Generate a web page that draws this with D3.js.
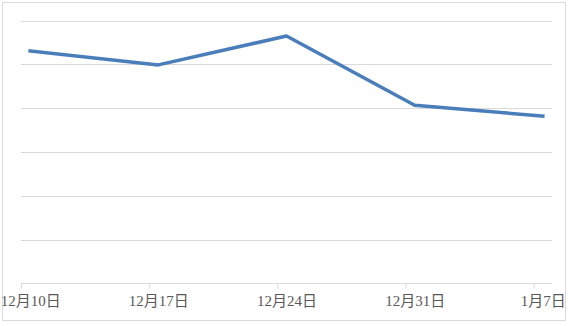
<!DOCTYPE html>
<html>
<head>
<meta charset="utf-8">
<script src="https://cdn.jsdelivr.net/npm/d3@7"></script>
<style>
  body { margin: 0; background: #fff; }
  svg { display: block; }
  .grid line { stroke: #d9d9d9; stroke-width: 1; }
  .x.axis path, .x.axis line { stroke: #d9d9d9; }
  .x.axis text { fill: #595959; font-family: "Liberation Serif", "Noto Sans CJK SC", serif; font-size: 15px; }
</style>
</head>
<body>
<div id="chart"></div>
<script>
// weekly dates (axis treats each as one day wide)
const dates = ["2017-12-10", "2017-12-17", "2017-12-24", "2017-12-31", "2018-01-07"]
const labels = ["12月10日", "12月17日", "12月24日", "12月31日", "1月7日"]
const values = [53.1, 49.9, 56.5, 40.7, 38.2]
const yTicks = [0, 10, 20, 30, 40, 50, 60]

const width = 573
const height = 326
const plot = { left: 21, right: 552, top: 20.7, bottom: 283.3 }

const svg = d3.select("#chart").append("svg").attr("width", width).attr("height", height)

svg.append("rect").attr("x", 2.5).attr("y", 2.5).attr("width", 563).attr("height", 318)
    .attr("fill", "#fff").attr("stroke", "#d9d9d9").attr("stroke-width", 1)

const day = 24 * 3600 * 1000
const parsed = dates.map(d => new Date(d + "T00:00:00Z"))
const x = d3.scaleUtc()
    .domain([parsed[0], new Date(+parsed[parsed.length - 1] + day)])
    .range([plot.left, plot.right])
const y = d3.scaleLinear().domain([0, 60]).range([plot.bottom, plot.top])

// gridlines
svg.append("g").attr("class", "grid")
    .selectAll("line").data(yTicks.slice(1)).enter().append("line")
    .attr("x1", plot.left).attr("x2", plot.right)
    .attr("y1", d => Math.round(y(d)) + 0.5).attr("y2", d => Math.round(y(d)) + 0.5)

// x axis: ticks at start of each date, labels centred on the day
const xAxis = svg.append("g").attr("class", "x axis")
    .attr("transform", `translate(0,${Math.round(plot.bottom) + 0.5})`)
    .call(d3.axisBottom(x).tickValues(parsed).tickSize(5).tickSizeOuter(0).tickFormat((d, i) => labels[i]))
xAxis.select(".domain").attr("d", `M${plot.left},0H${plot.right}`)
xAxis.selectAll(".tick text")
    .attr("transform", `translate(${x(new Date(+parsed[0] + day / 2)) - x(parsed[0])},0)`)
    .attr("y", 12).attr("dy", "0.71em")

// line
const pts = parsed.map((d, i) => ({ date: new Date(+d + day / 2), value: values[i] }))
const line = d3.line().x(d => x(d.date)).y(d => y(d.value))
svg.append("path").datum(pts).attr("d", line)
    .attr("fill", "none").attr("stroke", "#4a7ebb").attr("stroke-width", 3.5)
    .attr("stroke-linejoin", "round").attr("stroke-linecap", "square")
</script>
</body>
</html>
